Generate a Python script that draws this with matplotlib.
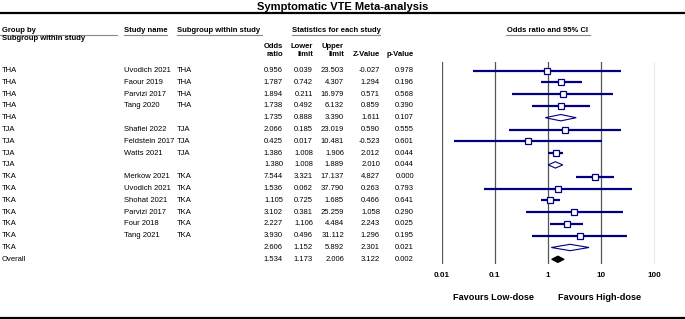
import matplotlib
matplotlib.use("Agg")
import matplotlib.pyplot as plt
import numpy as np

plt.rcParams['font.family'] = ['Liberation Sans', 'DejaVu Sans']

# table data
groups = ["THA"] * 5 + ["TJA"] * 4 + ["TKA"] * 7 + ["Overall"]
studies = ["Uvodich 2021", "Faour 2019", "Parvizi 2017", "Tang 2020", "",
           "Shafiei 2022", "Feldstein 2017", "Watts 2021", "",
           "Merkow 2021", "Uvodich 2021", "Shohat 2021", "Parvizi 2017",
           "Four 2018", "Tang 2021", "", ""]
subgroups = ["THA", "THA", "THA", "THA", "",
             "TJA", "TJA", "TJA", "",
             "TKA", "TKA", "TKA", "TKA", "TKA", "TKA", "", ""]
odds = [0.956, 1.787, 1.894, 1.738, 1.735,
        2.066, 0.425, 1.386, 1.380,
        7.544, 1.536, 1.105, 3.102, 2.227, 3.930, 2.606, 1.534]
lower = [0.039, 0.742, 0.211, 0.492, 0.888,
         0.185, 0.017, 1.008, 1.008,
         3.321, 0.062, 0.725, 0.381, 1.106, 0.496, 1.152, 1.173]
upper = [23.503, 4.307, 16.979, 6.132, 3.390,
         23.019, 10.481, 1.906, 1.889,
         17.137, 37.790, 1.685, 25.259, 4.484, 31.112, 5.892, 2.006]
zval = [-0.027, 1.294, 0.571, 0.859, 1.611,
        0.590, -0.523, 2.012, 2.010,
        4.827, 0.263, 0.466, 1.058, 2.243, 1.296, 2.301, 3.122]
pval = [0.978, 0.196, 0.568, 0.390, 0.107,
        0.555, 0.601, 0.044, 0.044,
        0.000, 0.793, 0.641, 0.290, 0.025, 0.195, 0.021, 0.002]
kind = ["s", "s", "s", "s", "sub",
        "s", "s", "s", "sub",
        "s", "s", "s", "s", "s", "s", "sub", "all"]

ticks = [0.01, 0.1, 1, 10, 100]
tick_labels = ["0.01", "0.1", "1", "10", "100"]

W, H = 685, 319
navy = '#000080'
fs = 5.5

fig = plt.figure(figsize=(W / 100, H / 100), dpi=100)
ax0 = fig.add_axes([0, 0, 1, 1])
ax0.set_xlim(0, W)
ax0.set_ylim(H, 0)
ax0.axis('off')

# title and frame lines
ax0.text(343, 6.5, "Symptomatic VTE Meta-analysis", ha='center', va='center',
         fontsize=8.0, fontweight='bold')
ax0.plot([0, W], [12.8, 12.8], color='black', lw=1.6)
ax0.plot([0, W], [317.5, 317.5], color='black', lw=1.6)

# headers
hb = dict(fontsize=fs, fontweight='bold', va='center')
ax0.text(2, 30, "Group by", ha='left', **hb)
ax0.text(2, 38.5, "Subgroup within study", ha='left', **hb)
ax0.text(124, 30, "Study name", ha='left', **hb)
ax0.text(177, 30, "Subgroup within study", ha='left', **hb)
ax0.text(292, 30, "Statistics for each study", ha='left', **hb)
ax0.text(548, 30, "Odds ratio and 95% CI", ha='center', **hb)
for x0, x1 in [(0, 117), (124, 167), (177, 262), (292, 380), (506, 590)]:
    ax0.plot([x0, x1], [34.8, 34.8], color='#888888', lw=0.8)

ax0.text(283, 46, "Odds", ha='right', **hb)
ax0.text(283, 54.5, "ratio", ha='right', **hb)
ax0.text(313, 46, "Lower", ha='right', **hb)
ax0.text(313, 54.5, "limit", ha='right', **hb)
ax0.text(344, 46, "Upper", ha='right', **hb)
ax0.text(344, 54.5, "limit", ha='right', **hb)
ax0.text(380, 54.5, "Z-Value", ha='right', **hb)
ax0.text(414, 54.5, "p-Value", ha='right', **hb)

row0, dy = 70.5, 11.8
for i in range(len(groups)):
    y = row0 + i * dy
    t = dict(fontsize=fs, va='center')
    ax0.text(2, y, groups[i], ha='left', **t)
    ax0.text(124, y, studies[i], ha='left', **t)
    ax0.text(177, y, subgroups[i], ha='left', **t)
    ax0.text(283, y, "%.3f" % odds[i], ha='right', **t)
    ax0.text(313, y, "%.3f" % lower[i], ha='right', **t)
    ax0.text(344, y, "%.3f" % upper[i], ha='right', **t)
    ax0.text(380, y, "%.3f" % zval[i], ha='right', **t)
    ax0.text(414, y, "%.3f" % pval[i], ha='right', **t)

# forest plot axes
top_px, bot_px = 62, 264
left_px, right_px = 441.5, 654.5
ax = fig.add_axes([left_px / W, 1 - bot_px / H, (right_px - left_px) / W,
                   (bot_px - top_px) / H])
ax.set_xscale('log')
ax.set_xlim(0.01, 100)
ax.set_ylim((bot_px - row0) / dy, (top_px - row0) / dy)
for s in ax.spines.values():
    s.set_visible(False)
for t in ticks:
    ax.axvline(t, color='#555555', lw=0.9, zorder=1)
ax.set_xticks(ticks)
ax.set_xticklabels(tick_labels, fontsize=5.8, fontweight='bold')
ax.minorticks_off()
ax.tick_params(axis='x', length=0, pad=6)
ax.set_yticks([])

hd = 0.27
for i in range(len(odds)):
    if kind[i] == "s":
        ax.plot([lower[i], upper[i]], [i, i], color=navy, lw=1.6, zorder=2,
                solid_capstyle='butt')
        ax.plot(odds[i], i, marker='s', ms=4.6, mfc='white', mec=navy,
                mew=0.9, zorder=3)
    else:
        xs = [lower[i], odds[i], upper[i], odds[i]]
        ys = [i, i - hd, i, i + hd]
        if kind[i] == "all":
            ax.fill(xs, ys, facecolor='black', edgecolor='black', lw=0.8, zorder=3)
        else:
            ax.fill(xs, ys, facecolor='white', edgecolor=navy, lw=0.8, zorder=3)

ax0.text(494, 297, "Favours Low-dose", ha='center', va='center',
         fontsize=6.6, fontweight='bold')
ax0.text(600, 297, "Favours High-dose", ha='center', va='center',
         fontsize=6.6, fontweight='bold')

fig.savefig("out.png", dpi=100)
